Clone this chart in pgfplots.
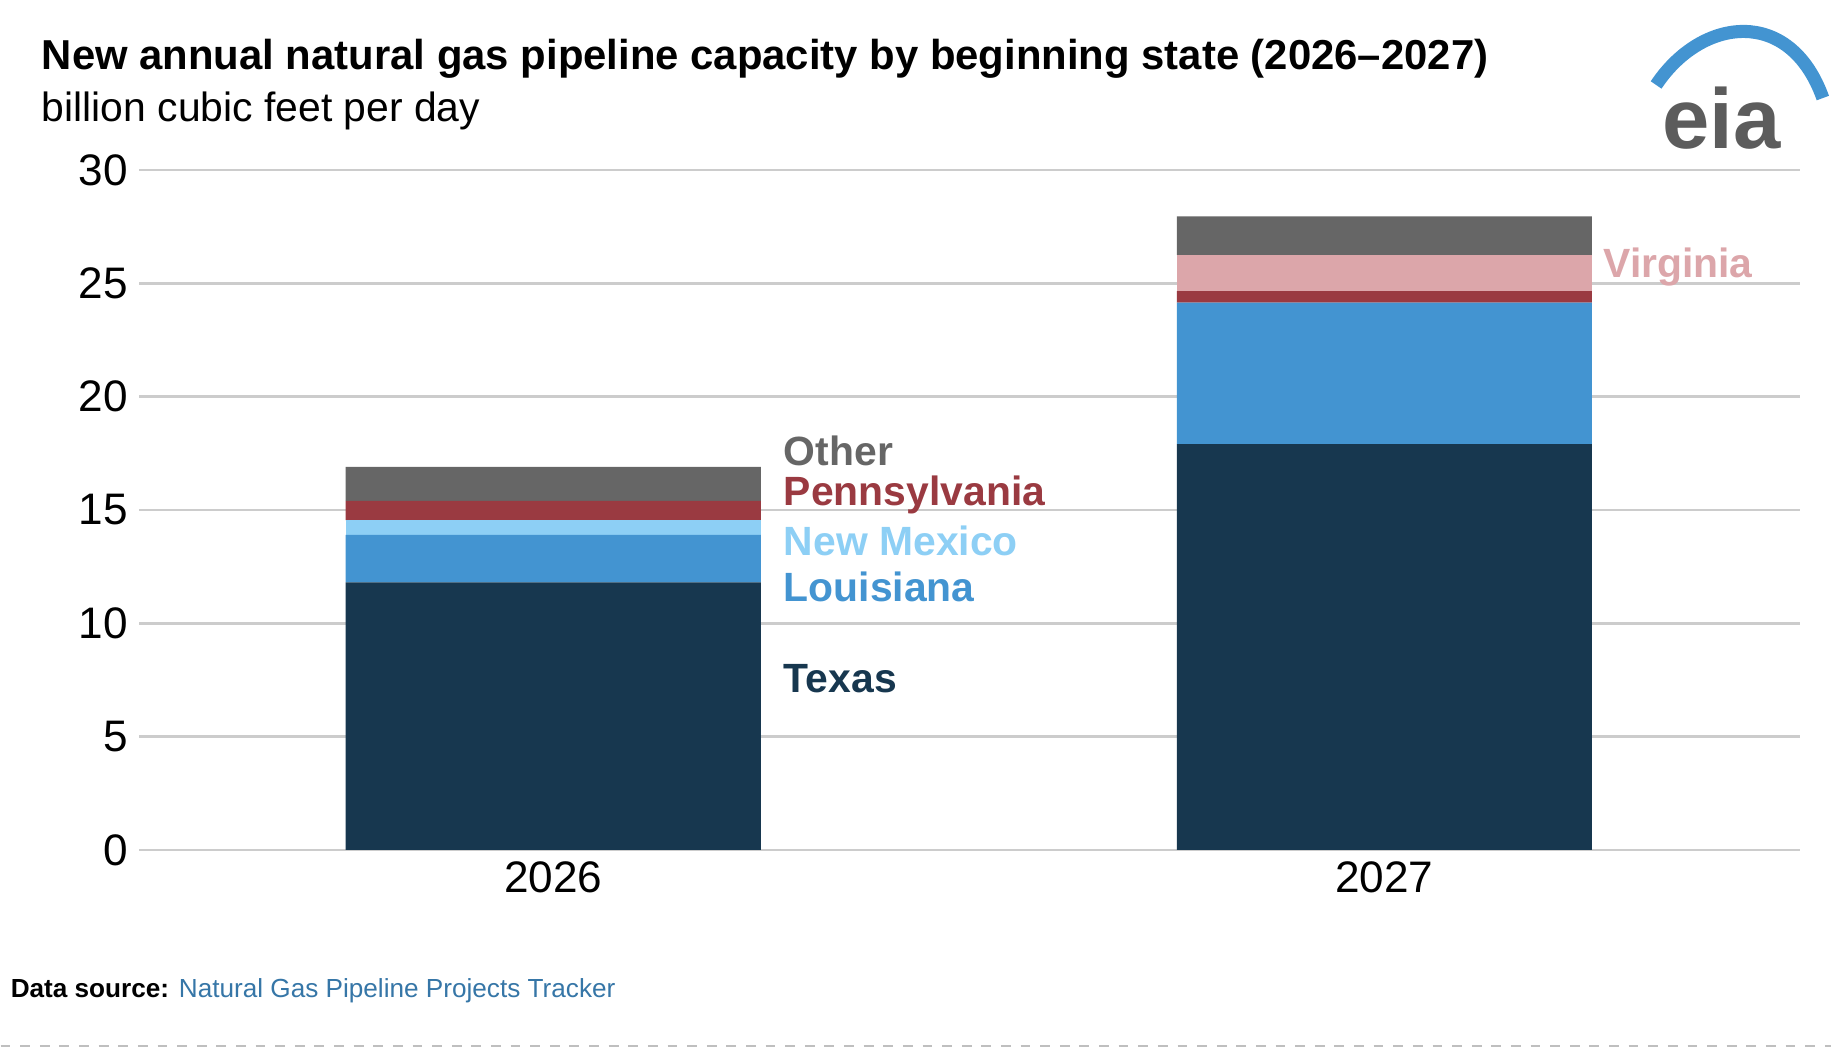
\documentclass[border=0pt]{standalone}
\usepackage{pgfplots}
\pgfplotsset{compat=1.18}
\usepackage{fontspec}
\setmainfont{Liberation Sans}
\definecolor{tx}{HTML}{17374F}
\definecolor{la}{HTML}{4394D1}
\definecolor{nm}{HTML}{8DCFF5}
\definecolor{pa}{HTML}{9A3A41}
\definecolor{va}{HTML}{DCA6AA}
\definecolor{ot}{HTML}{666666}
\begin{document}
\begin{tikzpicture}
\begin{axis}[scale only axis, width=508pt, height=208pt, anchor=south west, at={(0,0)},
 ybar stacked, bar width=127pt, xmin=-0.498, xmax=1.5, ymin=0, ymax=30,
 xtick={0,1}, xticklabels={2026,2027}, ytick={0,5,...,30},
 axis line style={draw=none}, major tick length=0pt, ymajorgrids, grid style={gray!40, line width=0.8pt},
 tick label style={font=\fontsize{13.5}{15}\selectfont}, /pgf/number format/assume math mode=true,
 clip=false]
\addplot[fill=tx,draw=none] coordinates {(0,11.8) (1,17.9)};
\addplot[fill=la,draw=none] coordinates {(0,2.1) (1,6.25)};
\addplot[fill=nm,draw=none] coordinates {(0,0.65) (1,0)};
\addplot[fill=pa,draw=none] coordinates {(0,0.85) (1,0.5)};
\addplot[fill=va,draw=none] coordinates {(0,0) (1,1.6)};
\addplot[fill=ot,draw=none] coordinates {(0,1.5) (1,1.7)};
\end{axis}
\begin{scope}[every node/.style={anchor=west,inner sep=0pt,font=\bfseries\fontsize{12.5}{14}\selectfont}]
\node[text=ot] at (197pt,122pt) {Other};
\node[text=pa] at (197pt,108.5pt) {Pennsylvania};
\node[text=nm] at (197pt,94.4pt) {New Mexico};
\node[text=la] at (197pt,80.4pt) {Louisiana};
\node[text=tx] at (197pt,52.4pt) {Texas};
\node[text=va] at (447.7pt,178.4pt) {Virginia};
\end{scope}
\node[anchor=west,inner sep=0pt,font=\bfseries\fontsize{12.8}{14}\selectfont] at (-30pt,242pt) {New annual natural gas pipeline capacity by beginning state (2026–2027)};
\node[anchor=west,inner sep=0pt,font=\fontsize{12.5}{14}\selectfont] at (-30pt,226pt) {billion cubic feet per day};
\node[anchor=west,inner sep=0pt,font=\fontsize{8}{10}\selectfont] at (-39.5pt,-43pt) {\textbf{Data source:} \textcolor{la!80!black}{Natural Gas Pipeline Projects Tracker}};
\draw[gray!50,dashed] (-42.4pt,-60pt) -- (517.6pt,-60pt);
\node[font=\bfseries\fontsize{26}{28}\selectfont, text=ot!90!black] at (484pt,224pt) {eia};
\draw[la, line width=4pt] (464pt,234pt) .. controls (478pt,255pt) and (505pt,258pt) .. (515pt,230pt);
\end{tikzpicture}
\end{document}
